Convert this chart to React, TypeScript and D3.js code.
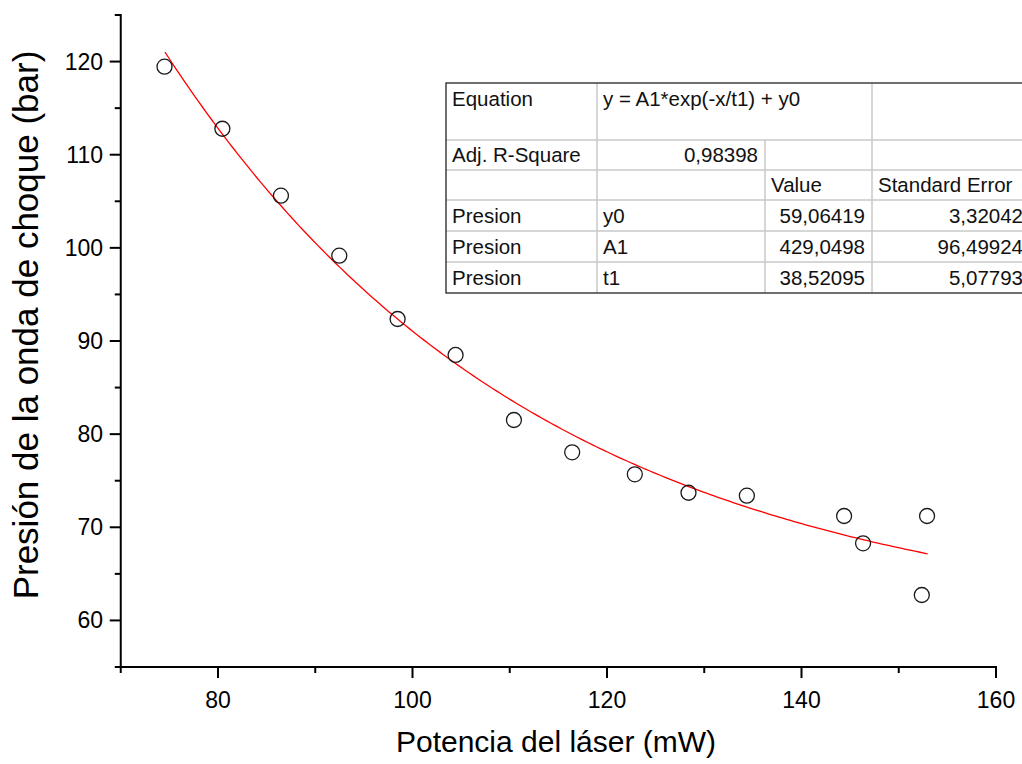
import React from "react";
import * as d3 from "d3";

// ---- data ----
const potencia = [74.5, 80.45, 86.47, 92.47, 98.47, 104.43, 110.43, 116.42, 122.86, 128.38, 134.38, 144.38, 146.33, 152.37, 152.91];
const presion = [119.45, 112.79, 105.6, 99.16, 92.36, 88.5, 81.52, 78.05, 75.69, 73.71, 73.39, 71.21, 68.28, 62.73, 71.21];

// fit parameters (from the table in the chart)
const fitY0 = 59.06419;
const fitA1 = 429.0498;
const fitT1 = 38.52095;
const fitXRange = [74.55, 152.97];

const xTicksMajor = [80, 100, 120, 140, 160];
const xTicksMinor = [70, 90, 110, 130, 150];
const yTicksMajor = [60, 70, 80, 90, 100, 110, 120];
const yTicksMinor = [55, 65, 75, 85, 95, 105, 115, 125];

const tableRows = [
  ["Equation", "y = A1*exp(-x/t1) + y0", "", ""],
  ["Adj. R-Square", "0,98398", "", ""],
  ["", "", "Value", "Standard Error"],
  ["Presion", "y0", "59,06419", "3,32042"],
  ["Presion", "A1", "429,0498", "96,49924"],
  ["Presion", "t1", "38,52095", "5,07793"],
];

const W = 1022;
const H = 764;
const FONT = "Arial, 'Liberation Sans', sans-serif";

export default function App() {
  const x = d3.scaleLinear().domain([70, 160]).range([120.75, 996]);
  const y = d3.scaleLinear().domain([55, 125]).range([667, 15]);

  const fitXs = d3.range(0, 201).map((i) => fitXRange[0] + (i / 200) * (fitXRange[1] - fitXRange[0]));
  const line = d3
    .line<number>()
    .x((d) => x(d))
    .y((d) => y(fitA1 * Math.exp(-d / fitT1) + fitY0));

  // table geometry
  const colX = [446, 597, 765, 872, 1030];
  const rowY = [83, 140, 170, 200, 231, 262, 293];
  const tFont = 20.5;

  const cellText = (r: number, c: number) => {
    const t = tableRows[r][c];
    if (!t) return null;
    const rightAlign = (r === 1 && c === 1) || (r >= 3 && c >= 2);
    const top = rowY[r];
    const bot = rowY[r + 1];
    const yy = r === 0 ? top + 23 : (top + bot) / 2 + 7;
    const xx = rightAlign ? colX[c + 1] - 7 : colX[c] + 6;
    return (
      <text key={`t${r}-${c}`} x={xx} y={yy} textAnchor={rightAlign ? "end" : "start"} fontSize={tFont} fill="#111">
        {t}
      </text>
    );
  };

  const gridColor = "#c8c8c8";

  return (
    <div style={{ position: "fixed", left: 0, top: 0, width: W, height: H, overflow: "hidden", background: "#fff" }}>
      <svg width={W} height={H} style={{ display: "block" }} fontFamily={FONT}>
        <rect width={W} height={H} fill="#fff" />

        {/* fit line */}
        <path d={line(fitXs) || ""} fill="none" stroke="#ff0000" strokeWidth={1.3} />

        {/* points */}
        {potencia.map((p, i) => (
          <circle key={i} cx={x(p)} cy={y(presion[i])} r={7.5} fill="none" stroke="#1a1a1a" strokeWidth={1.3} />
        ))}

        {/* axes */}
        <line x1={x(70)} x2={x(70)} y1={y(125)} y2={y(55)} stroke="#000" strokeWidth={2} strokeLinecap="square" />
        <line x1={x(70)} x2={x(160)} y1={y(55)} y2={y(55)} stroke="#000" strokeWidth={2} strokeLinecap="square" />

        {xTicksMajor.map((t) => (
          <g key={`xm${t}`}>
            <line x1={x(t)} x2={x(t)} y1={y(55)} y2={y(55) + 11} stroke="#000" strokeWidth={2} />
            <text x={x(t)} y={708} textAnchor="middle" fontSize={23} fill="#000">
              {t}
            </text>
          </g>
        ))}
        {xTicksMinor.map((t) => (
          <line key={`xn${t}`} x1={x(t)} x2={x(t)} y1={y(55)} y2={y(55) + 6} stroke="#000" strokeWidth={2} />
        ))}
        {yTicksMajor.map((t) => (
          <g key={`ym${t}`}>
            <line x1={x(70) - 11} x2={x(70)} y1={y(t)} y2={y(t)} stroke="#000" strokeWidth={2} />
            <text x={103} y={y(t) + 8} textAnchor="end" fontSize={23} fill="#000">
              {t}
            </text>
          </g>
        ))}
        {yTicksMinor.map((t) => (
          <line key={`yn${t}`} x1={x(70) - 6} x2={x(70)} y1={y(t)} y2={y(t)} stroke="#000" strokeWidth={2} />
        ))}

        {/* axis titles */}
        <text x={556} y={752} textAnchor="middle" fontSize={30} fill="#000">
          Potencia del láser (mW)
        </text>
        <text transform={`translate(38,325) rotate(-90)`} textAnchor="middle" fontSize={35} fill="#000">
          Presión de la onda de choque (bar)
        </text>

        {/* table */}
        <rect x={colX[0]} y={rowY[0]} width={colX[4] - colX[0]} height={rowY[6] - rowY[0]} fill="#fff" />
        {rowY.slice(1, 6).map((ry, i) => (
          <line key={`hr${i}`} x1={colX[0]} x2={colX[4]} y1={ry} y2={ry} stroke={gridColor} strokeWidth={1.5} />
        ))}
        <line x1={colX[1]} x2={colX[1]} y1={rowY[0]} y2={rowY[6]} stroke={gridColor} strokeWidth={1.5} />
        <line x1={colX[2]} x2={colX[2]} y1={rowY[1]} y2={rowY[6]} stroke={gridColor} strokeWidth={1.5} />
        <line x1={colX[3]} x2={colX[3]} y1={rowY[0]} y2={rowY[6]} stroke={gridColor} strokeWidth={1.5} />
        <rect x={colX[0]} y={rowY[0]} width={colX[4] - colX[0]} height={rowY[6] - rowY[0]} fill="none" stroke="#222" strokeWidth={1.3} />
        {tableRows.map((row, r) => row.map((_, c) => cellText(r, c)))}
      </svg>
    </div>
  );
}
